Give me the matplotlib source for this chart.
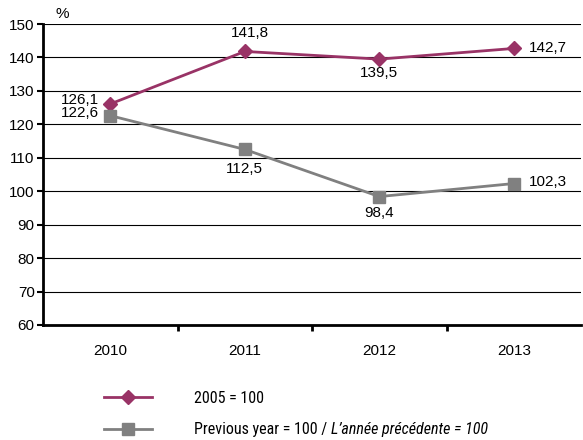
import matplotlib
matplotlib.use('Agg')
import matplotlib.pyplot as plt
from matplotlib.lines import Line2D

plt.rcParams['font.family'] = ['Liberation Sans', 'DejaVu Sans']

years = ['2010', '2011', '2012', '2013']
base_2005 = [126.1, 141.8, 139.5, 142.7]
prev_year = [122.6, 112.5, 98.4, 102.3]
legend_labels = ['2005 = 100', 'Previous year = 100 / ']
legend_italic = 'L’année précédente = 100'

col_a = '#993366'
col_b = '#808080'

fig = plt.figure(figsize=(5.83, 4.4), dpi=100)
ax = fig.add_axes([0.0738, 0.2614, 0.923, 0.684])

x = list(range(len(years)))
ax.plot(x, base_2005, color=col_a, lw=2, marker='D', ms=7, zorder=3)
ax.plot(x, prev_year, color=col_b, lw=2, marker='s', ms=9, zorder=3)

ax.set_xlim(-0.5, len(years) - 0.5)
ax.set_ylim(60, 150)
ax.set_yticks(range(60, 151, 10))
ax.yaxis.grid(True, color='black', lw=0.8)
ax.set_axisbelow(True)
ax.set_xticks(x)
ax.set_xticklabels(years, fontsize=11)
ax.tick_params(axis='x', length=0, pad=14)
ax.set_xticks([i + 0.5 for i in range(len(years) - 1)], minor=True)
ax.tick_params(axis='x', which='minor', length=4, width=2, direction='out')
ax.tick_params(axis='y', labelsize=11, length=4, width=1.5, pad=2)
for s in ['top', 'right']:
    ax.spines[s].set_visible(False)
ax.spines['left'].set_linewidth(2)
ax.spines['bottom'].set_linewidth(2)
ax.text(-0.5 + 0.09, 151, '%', fontsize=11, va='bottom')

fmt = lambda v: f'{v:.1f}'.replace('.', ',')
# label offsets in points
offs_a = [(-8, 3, 'right'), (4, 13, 'center'), (0, -10, 'center'), (11, 0, 'left')]
offs_b = [(-8, 2, 'right'), (0, -14, 'center'), (0, -12, 'center'), (11, 1, 'left')]
for vals, offs in ((base_2005, offs_a), (prev_year, offs_b)):
    for i, v in enumerate(vals):
        dx, dy, ha = offs[i]
        ax.annotate(fmt(v), (i, v), xytext=(dx, dy), textcoords='offset points',
                    fontsize=11, ha=ha, va='center')

handles = [Line2D([], [], color=col_a, lw=2, marker='D', ms=7),
           Line2D([], [], color=col_b, lw=2, marker='s', ms=9)]
leg = fig.legend(handles, legend_labels, loc='upper left',
                 bbox_to_anchor=(0.168, 0.127),
                 frameon=False, handlelength=3.0, handletextpad=2.6,
                 labelspacing=1.05, borderaxespad=0,
                 prop={'family': 'Roboto Condensed', 'size': 11.5})

# italic part of the second legend entry, put right after the upright part
fig.canvas.draw()
bb = leg.get_texts()[1].get_window_extent()
fig.text(bb.x1 / fig.bbox.width, (bb.y0 + bb.y1) / 2 / fig.bbox.height,
         legend_italic, fontsize=11.5, family='Roboto Condensed',
         style='italic', va='center')
fig.savefig('out.png', dpi=100)
